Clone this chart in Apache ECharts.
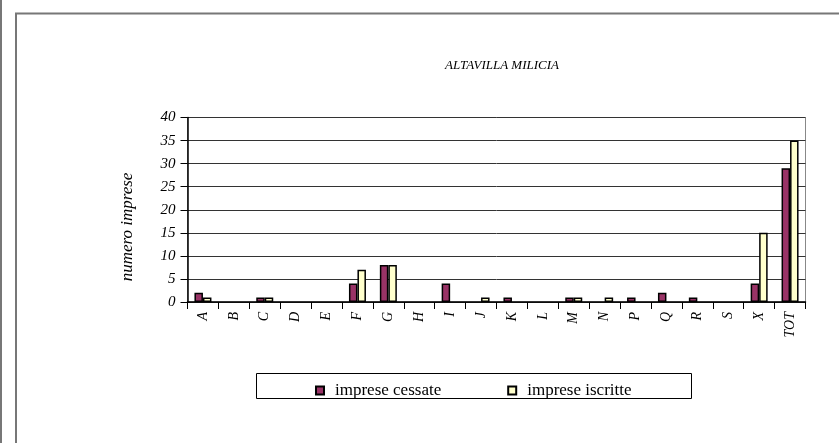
<!DOCTYPE html>
<html><head><meta charset="utf-8">
<script src="https://cdn.jsdelivr.net/npm/echarts@6/dist/echarts.min.js"></script>
<style>html,body{margin:0;padding:0;background:#fff}#c{width:839px;height:443px}</style>
</head><body><div id="c"></div>
<script>
const categories = ['A','B','C','D','E','F','G','H','I','J','K','L','M','N','P','Q','R','S','X','TOT'];
const cessate =   [2,0,1,0,0,4,8,0,4,0,1,0,1,0,1,2,1,0,4,29];
const iscritte =  [1,0,1,0,0,7,8,0,0,1,0,0,1,1,0,0,0,0,15,35];
const yTicks = [0,5,10,15,20,25,30,35,40];
const titleText = 'ALTAVILLA MILICIA';
const yName = 'numero imprese';
const seriesNames = ['imprese cessate','imprese iscritte'];

const font = 'Liberation Serif';
const nz = a => a.map(v => v === 0 ? '-' : v);
const chart = echarts.init(document.getElementById('c'), null, {renderer:'canvas'});
chart.setOption({
  animation:false,
  backgroundColor:'#fff',
  title:{text:titleText,left:497,top:54,textAlign:'center',
    textStyle:{fontFamily:font,fontStyle:'italic',fontWeight:'normal',fontSize:13,color:'#000'}},
  grid:{left:187.5,right:33.5,top:117.5,bottom:141,show:true,borderColor:'#888',borderWidth:1},
  graphic:[
    {type:'line',shape:{x1:1,y1:0,x2:1,y2:443},style:{stroke:'#777',lineWidth:2}},
    {type:'rect',shape:{x:16,y:13.5,width:900,height:500},style:{fill:null,stroke:'#777',lineWidth:2}},
    {type:'rect',shape:{x:256.5,y:373.5,width:435,height:25},style:{fill:null,stroke:'#000',lineWidth:1}},
    {type:'text',x:128,y:227,rotation:Math.PI/2,
      style:{text:yName,fontFamily:font,fontStyle:'italic',fontSize:17,fill:'#000',align:'center',verticalAlign:'middle'}}
  ],
  legend:{left:315,top:382,padding:0,itemWidth:8,itemHeight:8,itemGap:66,icon:'rect',
    textStyle:{fontFamily:font,fontSize:17,color:'#000',padding:[0,0,0,6]},
    data:seriesNames},
  xAxis:{type:'category',data:categories,
    axisLine:{lineStyle:{color:'#000',width:1.5}},
    axisTick:{show:true,interval:0,length:7,lineStyle:{color:'#000'}},
    axisLabel:{interval:0,rotate:90,margin:10,fontFamily:font,fontStyle:'italic',fontSize:14,color:'#000'}},
  yAxis:{type:'value',min:yTicks[0],max:yTicks[yTicks.length-1],interval:yTicks[1]-yTicks[0],
    axisLine:{show:true,lineStyle:{color:'#000',width:1.5}},
    axisTick:{show:true,length:7,inside:false,lineStyle:{color:'#000'}},
    splitLine:{lineStyle:{color:'#333',width:1}},
    axisLabel:{margin:12,fontFamily:font,fontStyle:'italic',fontSize:15,color:'#000'}},
  series:[
    {name:seriesNames[0],type:'bar',data:nz(cessate),barWidth:8.5,barGap:'0%',
      itemStyle:{color:'#993366',borderColor:'#000',borderWidth:1.5}},
    {name:seriesNames[1],type:'bar',data:nz(iscritte),barWidth:8.5,barGap:'0%',
      itemStyle:{color:'#FFFFCC',borderColor:'#000',borderWidth:1.5}}
  ]
});
</script></body></html>
